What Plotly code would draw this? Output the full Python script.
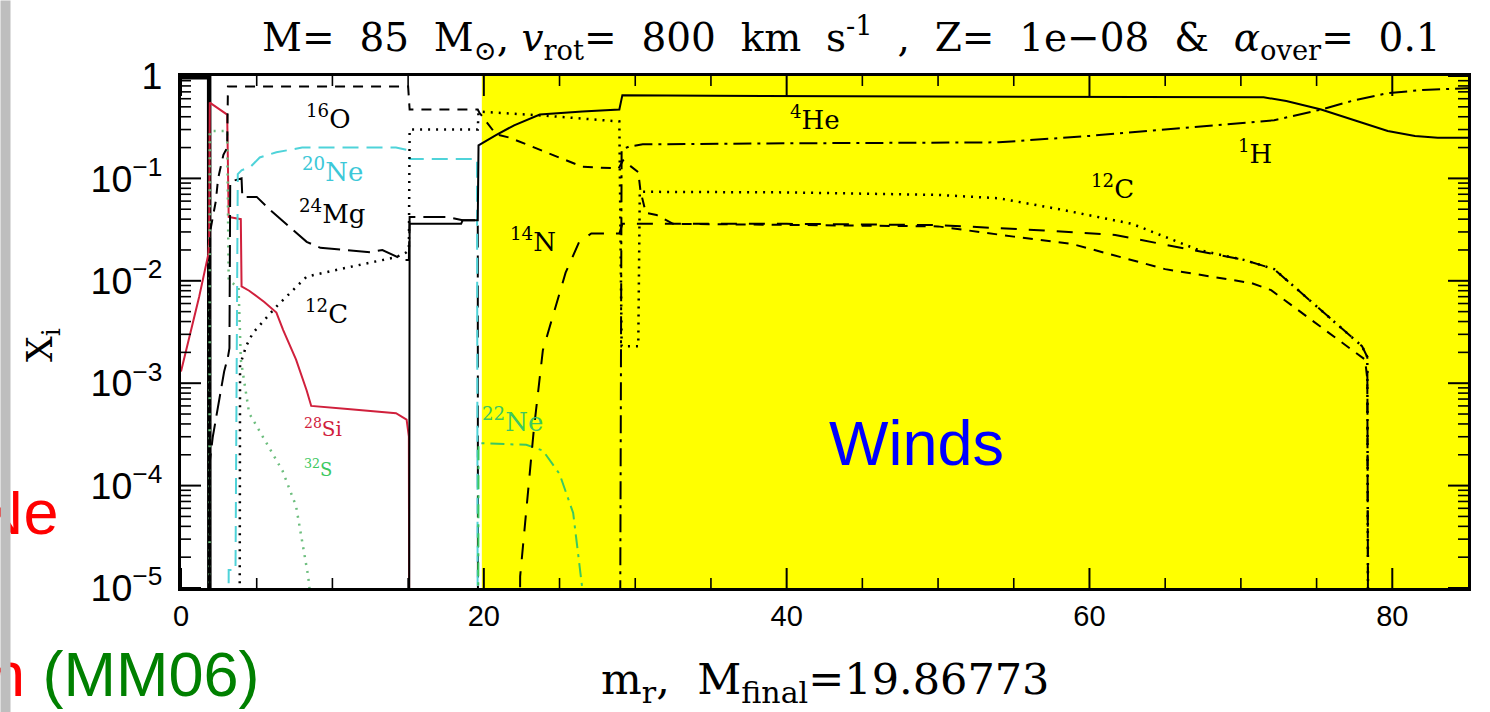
import math
import plotly.graph_objects as go

# Mass coordinate m_r [Msun] and mass fractions X_i for each isotope
m_h1 = [28.95, 29.1, 29.6, 30.5, 40, 54, 60, 65, 69, 72.2, 75.3, 77.5, 79.7, 82, 85]
x_h1 = [1e-8, 0.19, 0.205, 0.215, 0.22, 0.225, 0.26, 0.30, 0.34, 0.37, 0.47, 0.58, 0.68, 0.73, 0.76]

m_he4 = [15.05, 15.1, 18.5, 18.6, 19.6, 19.65, 20.8, 22.0, 23.7, 26.5, 28.95, 29.15,
         35, 50, 65, 71.5, 73.0, 75.3, 77.5, 79.7, 81.5, 83, 85]
x_he4 = [1e-8, 0.036, 0.036, 0.039, 0.039, 0.21, 0.265, 0.33, 0.42, 0.45, 0.47, 0.65,
         0.64, 0.635, 0.63, 0.62, 0.57, 0.47, 0.37, 0.29, 0.26, 0.25, 0.25]

m_c12 = [3.85, 3.9, 4.3, 4.75, 6.3, 8.3, 11.5, 14.2, 14.9, 15.05, 15.1, 19.6, 19.65, 24.0,
         28.95, 29.1, 30.2, 30.3, 40, 50, 54, 58, 62.8, 67.2, 70.2, 72.2, 78.0, 78.35, 78.45]
x_c12 = [1e-8, 1.5e-3, 2.3e-3, 3.1e-3, 5.6e-3, 0.011, 0.014, 0.017, 0.019, 0.02, 0.30, 0.30,
         0.45, 0.41, 0.36, 0.0023, 0.0023, 0.074, 0.073, 0.069, 0.064, 0.05, 0.036, 0.02,
         0.016, 0.013, 0.0023, 0.0018, 1e-8]

m_n14 = [22.3, 22.4, 23.3, 23.9, 25.4, 26.3, 27.1, 28.95, 29.15, 40, 50, 57, 61.7, 66,
         70.2, 72.2, 78.0, 78.35, 78.45]
x_n14 = [1e-8, 1.3e-5, 3.5e-4, 2.1e-3, 0.012, 0.024, 0.029, 0.029, 0.036, 0.036, 0.035,
         0.031, 0.028, 0.021, 0.016, 0.013, 0.0023, 0.0018, 1e-8]

m_o16 = [1.87, 1.92, 2.3, 2.45, 2.8, 3.05, 3.1, 15.0, 15.1, 19.6, 19.7, 20.8, 21.7, 24.1,
         26.5, 28.9, 29.2, 30.2, 30.35, 30.7, 31.4, 32.5, 50, 55, 58.8, 65, 70.7, 72.0,
         78.2, 78.35, 78.45]
x_o16 = [1e-8, 0.03, 0.06, 0.1, 0.17, 0.2, 0.79, 0.79, 0.47, 0.47, 0.44, 0.27, 0.25, 0.18,
         0.13, 0.125, 0.15, 0.115, 0.075, 0.046, 0.044, 0.036, 0.034, 0.027, 0.023, 0.013,
         0.0095, 0.0081, 0.0017, 0.0011, 1e-8]

m_ne20 = [3.1, 3.15, 3.6, 3.75, 4.0, 4.6, 5.2, 6.3, 8.0, 14.2, 14.9, 15.1, 19.55, 19.62]
x_ne20 = [1e-8, 1.5e-5, 1.5e-5, 0.11, 0.12, 0.13, 0.16, 0.18, 0.20, 0.20, 0.19, 0.155, 0.155, 1e-8]

m_ne22 = [19.6, 19.65, 22.8, 23.9, 25.0, 25.9, 26.5, 26.8]
x_ne22 = [1e-8, 2.6e-4, 2.5e-4, 2.2e-4, 1.3e-4, 5.4e-5, 1.0e-5, 3e-6]

m_mg24 = [1.88, 1.9, 2.1, 2.45, 2.85, 3.1, 3.2, 3.25, 4.0, 4.05, 5.0, 5.9, 8.3, 9.2, 12.5,
          13.3, 14.7, 15.05, 15.1, 17.6, 18.6, 19.6, 19.62]
x_mg24 = [1e-8, 1.7e-4, 3e-4, 5.9e-4, 1.3e-3, 1.8e-3, 2.2e-3, 0.093, 0.10, 0.066, 0.066,
          0.049, 0.024, 0.021, 0.019, 0.02, 0.016, 0.016, 0.042, 0.042, 0.039, 0.039, 1e-8]

m_si28 = [0, 0.6, 1.2, 1.8, 1.86, 1.9, 2.4, 3.05, 3.15, 3.95, 4.0, 4.5, 5.5, 6.3, 6.75,
          7.6, 8.3, 8.6, 11, 14.2, 14.9, 15.05, 15.1]
x_si28 = [1.3e-3, 3e-3, 7e-3, 0.018, 0.025, 0.55, 0.49, 0.42, 0.042, 0.040, 0.0088, 0.008,
          0.0062, 0.0049, 0.0033, 0.0017, 8.5e-4, 6.0e-4, 5.6e-4, 5.1e-4, 4.4e-4, 3e-4, 1e-8]

m_s32 = [1.87, 1.9, 3.05, 3.15, 3.8, 3.95, 4.5, 5.4, 6.7, 7.6, 8.05, 8.4, 8.7]
x_s32 = [1e-8, 0.29, 0.29, 0.01, 8.7e-3, 1.7e-3, 5.1e-4, 3e-4, 1.4e-4, 6.3e-5, 2.7e-5, 1.3e-5, 5e-6]

m_ni56 = [0, 1.86, 1.88]
x_ni56 = [0.97, 0.97, 1e-8]

M_FINAL = 19.86773

# tick positions: majors every 20 Msun / every decade, minors every 5 Msun / digits 2..9
x_major = [0, 20, 40, 60, 80]
x_minor = [v for v in range(5, 85, 5) if v not in x_major]
y_major = [10.0 ** e for e in range(-5, 1)]
y_minor = [k * 10.0 ** e for e in range(-5, 0) for k in range(2, 10)]
X_MIN, X_MAX = 0, 85
Y_LOG_MIN, Y_LOG_MAX = -5, 0

SERIF = "DejaVu Serif"
SANS = "Liberation Sans, Arial, sans-serif"

styles = [
    (m_ni56, x_ni56, "#000000", "solid", 4.5),
    (m_si28, x_si28, "#D0203C", "solid", 2),
    (m_s32, x_s32, "#6DBE7E", "2px,6px", 2.5),
    (m_mg24, x_mg24, "#000000", "22px,8px", 2),
    (m_ne20, x_ne20, "#4FD3D9", "16px,8px", 2),
    (m_ne22, x_ne22, "#3CC860", "14px,6px,3px,6px", 2),
    (m_o16, x_o16, "#000000", "10px,8px", 2),
    (m_c12, x_c12, "#000000", "2px,6px", 2.5),
    (m_n14, x_n14, "#000000", "16px,12px", 2),
    (m_he4, x_he4, "#000000", "solid", 2),
    (m_h1, x_h1, "#000000", "18px,6px,3px,6px", 2),
]

W, H = 1490, 712
L, R, T, B = 181, 22, 76, 124
PW, PH = W - L - R, H - T - B

fig = go.Figure()
for mm, xx, col, dash, w in styles:
    fig.add_trace(go.Scatter(x=mm, y=xx, mode="lines", showlegend=False,
                             line=dict(color=col, dash=dash, width=w)))

# wind-lost layers above the final mass
fig.add_shape(type="rect", xref="x", yref="paper", x0=M_FINAL, x1=X_MAX, y0=0, y1=1,
              fillcolor="#FFFF00", line=dict(width=0), layer="below")


# inward tick marks on all four sides of the frame, as segments in axis units
def tick_segments(xvals, yvals, len_px):
    dlog = len_px / PH * (Y_LOG_MAX - Y_LOG_MIN)
    dx = len_px / PW * (X_MAX - X_MIN)
    xs, ys = [], []
    for v in xvals:
        xs += [v, v, None, v, v, None]
        ys += [10 ** Y_LOG_MIN, 10 ** (Y_LOG_MIN + dlog), None,
               10 ** Y_LOG_MAX, 10 ** (Y_LOG_MAX - dlog), None]
    for v in yvals:
        xs += [X_MIN, X_MIN + dx, None, X_MAX, X_MAX - dx, None]
        ys += [v, v, None, v, v, None]
    return xs, ys


for xv, yv, ln, lw in ((x_major, y_major, 20, 2), (x_minor, y_minor, 10, 1.6)):
    tx, ty = tick_segments(xv, yv, ln)
    fig.add_trace(go.Scatter(x=tx, y=ty, mode="lines", showlegend=False, hoverinfo="skip",
                             connectgaps=False, line=dict(color="black", width=lw)))

fig.update_layout(
    xaxis=dict(range=[X_MIN, X_MAX], tickmode="array", tickvals=x_major, ticks="",
               showline=True, linecolor="black", linewidth=2.5, mirror=True,
               showgrid=False, zeroline=False,
               tickfont=dict(family=SANS, size=29, color="black")),
    yaxis=dict(type="log", range=[Y_LOG_MIN, Y_LOG_MAX], tickmode="linear", tick0=0, dtick=1,
               exponentformat="power", ticks="",
               showline=True, linecolor="black", linewidth=2.5, mirror=True,
               showgrid=False, zeroline=False,
               tickfont=dict(family=SANS, size=30, color="black"), ticklabelstandoff=10),
)


def lab(text, x, logy, color="black", size=26, family=SERIF):
    fig.add_annotation(x=x, y=logy, xref="x", yref="y", text=text, showarrow=False,
                       font=dict(family=family, size=size, color=color),
                       xanchor="center", yanchor="middle")


lab("<sup>16</sup>O", 9.7, -0.40)
lab("<sup>20</sup>Ne", 10.0, -0.92, color="#3CC8D8")
lab("<sup>24</sup>Mg", 10.0, -1.33)
lab("<sup>12</sup>C", 9.6, -2.30)
lab("<sup>28</sup>Si", 9.4, -3.44, color="#D0203C", size=20)
lab("<sup>32</sup>S", 9.05, -3.83, color="#3CC860", size=18)
lab("<sup>4</sup>He", 41.9, -0.41)
lab("<sup>1</sup>H", 70.9, -0.74)
lab("<sup>12</sup>C", 61.5, -1.08)
lab("<sup>14</sup>N", 23.25, -1.60)
lab("<sup>22</sup>Ne", 21.9, -3.36, color="#3CC860")
lab("<sup>56</sup>Ni", 0.4, 0.19, size=17)
lab("<sup>28</sup>Si", 3.4, 0.19, color="#D0203C", size=17)

fig.add_annotation(x=48.6, y=-3.58, xref="x", yref="y", text="Winds", showarrow=False,
                   font=dict(family=SANS, size=63, color="#0000FF"))


def px(xp):
    return (xp - L) / PW


def py(yp):
    return 1 - (yp - T) / PH


fig.add_annotation(xref="paper", yref="paper", x=px(851), y=py(38), showarrow=False,
                   text="M=\u00a0 85\u00a0 M<sub>⊙</sub>, <i>v</i><sub>rot</sub>=\u00a0 800\u00a0 km\u00a0 s<sup>-1</sup>"
                        "\u00a0 ,\u00a0 Z=\u00a0 1e−08\u00a0 &\u00a0 <i>α</i><sub>over</sub>=\u00a0 0.1",
                   font=dict(family=SERIF, size=39, color="black"),
                   xanchor="center", yanchor="middle")
fig.add_annotation(xref="paper", yref="paper", x=px(825), y=py(682), showarrow=False,
                   text="m<sub>r</sub>,\u00a0 M<sub>final</sub>=19.86773",
                   font=dict(family=SERIF, size=43, color="black"),
                   xanchor="center", yanchor="middle")
fig.add_annotation(xref="paper", yref="paper", x=px(42), y=py(345), showarrow=False,
                   text="X<sub>i</sub>", textangle=-90,
                   font=dict(family=SERIF, size=36, color="black"),
                   xanchor="center", yanchor="middle")

# slide text around the figure
fig.add_annotation(xref="paper", yref="paper", x=px(61), y=py(512), showarrow=False,
                   text="Ne", font=dict(family=SANS, size=63, color="#FF0000"),
                   xanchor="right", yanchor="middle")
fig.add_annotation(xref="paper", yref="paper", x=px(262), y=py(674), showarrow=False,
                   text="<span style='color:#FF0000'>n</span> (MM06)",
                   font=dict(family=SANS, size=63, color="#008000"),
                   xanchor="right", yanchor="middle")
fig.add_annotation(xref="paper", yref="paper", x=px(0), y=py(0), showarrow=False,
                   text=" ", width=9, height=712, bgcolor="#BEBEBE", borderpad=0,
                   xanchor="left", yanchor="top")

fig.update_layout(width=W, height=H, margin=dict(l=L, r=R, t=T, b=B),
                  plot_bgcolor="white", paper_bgcolor="white")

fig.write_html("out.html")
